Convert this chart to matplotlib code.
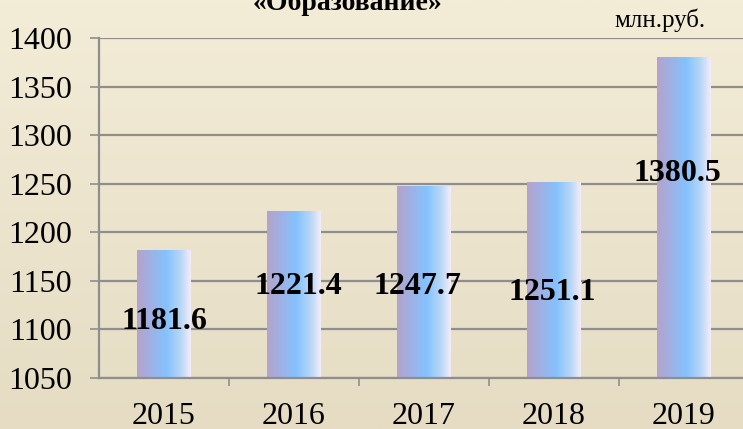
import numpy as np
import matplotlib
matplotlib.use('Agg')
import matplotlib.pyplot as plt
from matplotlib.colors import LinearSegmentedColormap

years = ['2015', '2016', '2017', '2018', '2019']
values = [1181.6, 1221.4, 1247.7, 1251.1, 1380.5]
value_labels = ['1181.6', '1221.4', '1247.7', '1251.1', '1380.5']

# where the value labels sit (data units)
label_x_shift = [0.0, 0.03, -0.05, -0.01, -0.05]
label_y = [1108, 1144, 1144, 1138, 1261]

title = '«Образование»'
units = 'млн.руб.'

plt.rcParams['font.family'] = ['Liberation Serif', 'DejaVu Serif']

W, H = 743, 429
fig = plt.figure(figsize=(W / 100, H / 100), dpi=100)

# background gradient
bg = fig.add_axes([0, 0, 1, 1], zorder=0)
bg_cmap = LinearSegmentedColormap.from_list('bg', ['#F3ECD7', '#E5DCC3'])
bg.imshow(np.linspace(0, 1, 256).reshape(-1, 1), cmap=bg_cmap, aspect='auto',
          extent=[0, 1, 0, 1])
bg.set_axis_off()

ax = fig.add_axes([99 / W, 1 - 378 / H, 650 / W, (378 - 38.3) / H], zorder=1)
ax.set_facecolor('none')

x = np.arange(len(years))
bars = ax.bar(x, values, width=0.41, bottom=0, color='none', zorder=2)

bar_cmap = LinearSegmentedColormap.from_list(
    'bar', [(0.0, '#B4A3CB'), (0.55, '#85C2FF'), (0.8, '#B5D6F5'), (1.0, '#F4ECF9')])
grad = np.linspace(0, 1, 256).reshape(1, -1)
for b in bars:
    x0 = b.get_x()
    ax.imshow(grad, cmap=bar_cmap, aspect='auto', zorder=2,
              extent=[x0, x0 + b.get_width(), 1050, b.get_height()])

for i in range(len(years)):
    ax.text(x[i] + label_x_shift[i], label_y[i], value_labels[i], ha='center', va='center',
            fontsize=23, fontweight='bold', color='black', zorder=4)

ax.set_xlim(-0.5, 4.5)
ax.set_ylim(1050, 1400)
ax.set_yticks(np.arange(1050, 1401, 50))
ax.set_xticks(x)
ax.set_xticklabels(years)
ax.set_xticks(x[:-1] + 0.5, minor=True)

gc = '#8E8E8E'
ax.grid(axis='y', color=gc, lw=1.6, zorder=1)
ax.set_axisbelow(True)
for s in ['top', 'right']:
    ax.spines[s].set_visible(False)
ax.spines['left'].set_color(gc)
ax.spines['left'].set_linewidth(1.6)
ax.spines['bottom'].set_color(gc)
ax.spines['bottom'].set_linewidth(1.6)

ax.tick_params(axis='y', direction='out', length=6.5, width=1.2, color=gc,
               labelsize=23, pad=13)
ax.tick_params(axis='x', which='major', length=0, labelsize=23, pad=17)
ax.tick_params(axis='x', which='minor', direction='out', length=6, width=1.2, color=gc)

fig.text(347 / W, 1 - 9.5 / H, title, ha='center', va='baseline',
         fontsize=20, fontweight='bold', zorder=3)
fig.text(660 / W, 1 - 26.5 / H, units, ha='center', va='baseline',
         fontsize=18, zorder=3)

plt.savefig('out.png', dpi=100)
